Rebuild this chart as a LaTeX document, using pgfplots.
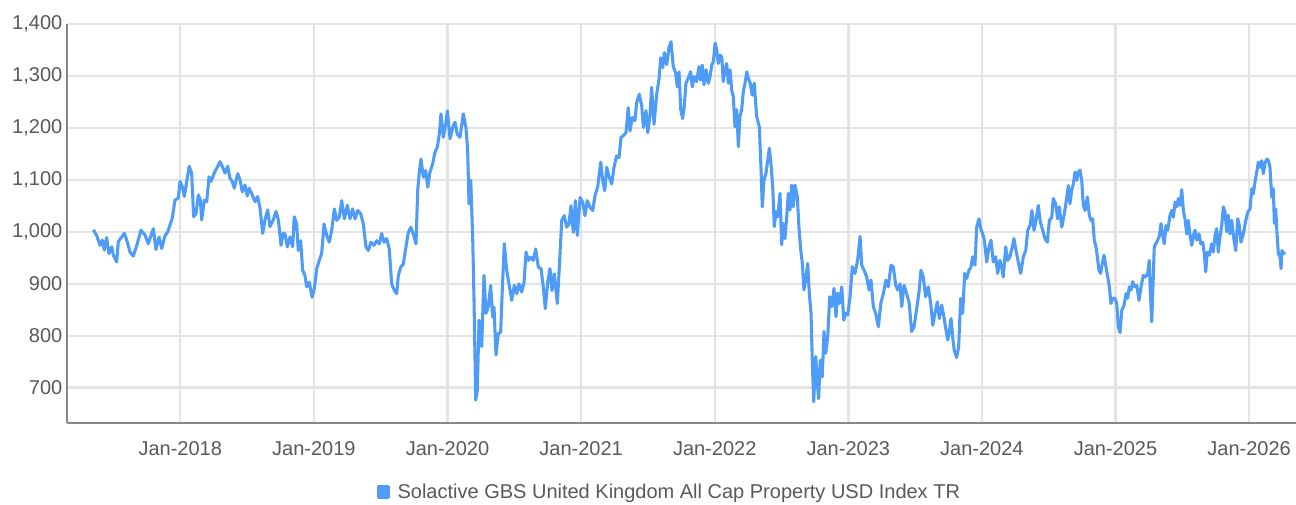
\documentclass[border=0pt]{standalone}
\usepackage{pgfplots}
\pgfplotsset{compat=1.18}
\usepackage{fontspec}
\setmainfont{Liberation Sans}
\definecolor{linecol}{RGB}{78,155,248}
\definecolor{gridgray}{RGB}{228,228,228}
\definecolor{axisgray}{RGB}{135,135,135}
\definecolor{labelgray}{RGB}{89,89,89}
\begin{document}
\begin{tikzpicture}
\path[use as bounding box] (-50.25pt,-60.75pt) rectangle (921.75pt,317.25pt);
\begin{axis}[
  at={(0,0)}, anchor=south west,
  scale only axis, width=921.75pt, height=299.25pt,
  xmin=2017.152, xmax=2026.351, ymin=632, ymax=1400,
  axis x line*=bottom, axis y line*=left,
  axis line style={draw=axisgray, line width=1.5pt},
  xtick={2018,2019,2020,2021,2022,2023,2024,2025,2026},
  xticklabels={Jan-2018,Jan-2019,Jan-2020,Jan-2021,Jan-2022,Jan-2023,Jan-2024,Jan-2025,Jan-2026},
  ytick={700,800,900,1000,1100,1200,1300,1400},
  grid=major, major grid style={draw=gridgray, line width=1.8pt},
  major tick length=0pt, tick style={draw=none},
  tick label style={font=\fontsize{15}{18}\selectfont, text=labelgray},
  xticklabel style={yshift=-10.5pt},
  /pgf/number format/.cd, 1000 sep={,}, assume math mode=true,
  /pgfplots/.cd,
  legend style={draw=none, fill=none, at={(axis description cs:0.4906,0)}, anchor=center, yshift=-51.75pt,
    font=\fontsize{15}{18}\selectfont, text=labelgray, inner sep=0pt},
  legend image code/.code={\fill[linecol] (0pt,-3.8pt) rectangle (7.5pt,3.8pt);},
]
\addplot[linecol, line width=2.3pt, line join=round, mark=none] table {
2017.349 1004
2017.374 993
2017.399 974
2017.416 984
2017.431 965
2017.449 989
2017.466 958
2017.487 971
2017.499 955
2017.524 942
2017.536 981
2017.561 990
2017.581 997
2017.599 984
2017.624 961
2017.648 953
2017.674 974
2017.706 1003
2017.736 994
2017.760 977
2017.798 1006
2017.818 966
2017.841 990
2017.861 968
2017.885 992
2017.906 1000
2017.923 1013
2017.940 1026
2017.960 1061
2017.985 1065
2017.998 1097
2018.015 1087
2018.030 1068
2018.048 1097
2018.067 1126
2018.085 1113
2018.100 1029
2018.118 1035
2018.135 1071
2018.150 1061
2018.160 1023
2018.180 1061
2018.198 1058
2018.215 1106
2018.230 1097
2018.254 1113
2018.280 1126
2018.297 1135
2018.314 1126
2018.335 1113
2018.355 1126
2018.372 1103
2018.389 1097
2018.404 1084
2018.430 1112
2018.447 1100
2018.464 1077
2018.484 1090
2018.501 1069
2018.516 1084
2018.534 1074
2018.559 1058
2018.579 1068
2018.597 1045
2018.617 997
2018.634 1023
2018.654 1042
2018.671 1010
2018.696 1023
2018.716 1039
2018.734 1023
2018.754 974
2018.771 997
2018.784 996
2018.801 971
2018.821 990
2018.841 971
2018.853 1029
2018.871 1015
2018.883 964
2018.901 983
2018.916 926
2018.933 916
2018.946 894
2018.966 903
2018.986 874
2019.003 890
2019.021 929
2019.040 945
2019.058 958
2019.076 1015
2019.096 993
2019.115 980
2019.133 1003
2019.153 1044
2019.171 1022
2019.190 1028
2019.208 1060
2019.228 1025
2019.250 1051
2019.270 1025
2019.290 1044
2019.308 1025
2019.328 1041
2019.350 1035
2019.370 1015
2019.390 971
2019.407 964
2019.427 980
2019.450 974
2019.470 983
2019.490 977
2019.507 997
2019.525 980
2019.545 987
2019.564 967
2019.582 900
2019.602 887
2019.620 881
2019.632 916
2019.650 932
2019.669 938
2019.689 971
2019.707 999
2019.725 1009
2019.744 996
2019.764 977
2019.777 1079
2019.789 1115
2019.802 1140
2019.819 1105
2019.837 1118
2019.852 1086
2019.869 1115
2019.889 1131
2019.906 1153
2019.924 1163
2019.939 1188
2019.951 1227
2019.969 1182
2019.987 1208
2019.999 1233
2020.019 1179
2020.039 1201
2020.056 1211
2020.073 1188
2020.094 1182
2020.118 1227
2020.138 1201
2020.151 1156
2020.161 1054
2020.174 1099
2020.181 1047
2020.189 983
2020.198 875
2020.211 676
2020.223 695
2020.236 830
2020.256 779
2020.273 916
2020.288 843
2020.305 855
2020.323 897
2020.338 836
2020.348 855
2020.363 763
2020.380 804
2020.398 807
2020.410 887
2020.425 977
2020.443 926
2020.460 900
2020.481 868
2020.500 897
2020.518 881
2020.535 900
2020.555 884
2020.573 903
2020.588 961
2020.605 945
2020.623 951
2020.642 945
2020.660 967
2020.680 932
2020.700 929
2020.717 894
2020.732 852
2020.750 903
2020.767 929
2020.782 887
2020.799 919
2020.822 862
2020.837 932
2020.855 1022
2020.874 1031
2020.892 1009
2020.909 1015
2020.924 1050
2020.942 999
2020.957 1060
2020.972 993
2020.992 1066
2021.012 1057
2021.029 1031
2021.046 1060
2021.067 1047
2021.087 1041
2021.104 1070
2021.124 1086
2021.147 1134
2021.162 1098
2021.177 1079
2021.192 1124
2021.211 1105
2021.229 1092
2021.246 1124
2021.266 1146
2021.284 1143
2021.299 1182
2021.316 1185
2021.336 1191
2021.353 1239
2021.366 1194
2021.383 1220
2021.403 1214
2021.416 1249
2021.436 1265
2021.454 1242
2021.466 1201
2021.486 1233
2021.499 1191
2021.516 1226
2021.528 1278
2021.546 1207
2021.566 1265
2021.583 1294
2021.596 1335
2021.611 1316
2021.623 1345
2021.641 1322
2021.658 1355
2021.673 1366
2021.690 1318
2021.708 1305
2021.720 1279
2021.733 1308
2021.746 1235
2021.760 1218
2021.772 1241
2021.785 1286
2021.802 1296
2021.820 1308
2021.832 1279
2021.847 1299
2021.865 1289
2021.882 1318
2021.895 1292
2021.907 1321
2021.920 1283
2021.935 1312
2021.952 1286
2021.965 1299
2021.978 1321
2021.990 1328
2022.003 1363
2022.015 1350
2022.027 1324
2022.040 1340
2022.053 1337
2022.064 1289
2022.077 1312
2022.090 1324
2022.102 1286
2022.115 1312
2022.127 1273
2022.139 1260
2022.152 1202
2022.165 1235
2022.177 1164
2022.189 1222
2022.202 1235
2022.214 1270
2022.227 1286
2022.240 1308
2022.251 1296
2022.266 1286
2022.281 1263
2022.296 1286
2022.314 1222
2022.334 1202
2022.347 1119
2022.356 1048
2022.369 1100
2022.384 1113
2022.397 1138
2022.409 1161
2022.421 1132
2022.434 1087
2022.446 1010
2022.459 1039
2022.472 1029
2022.489 1074
2022.501 975
2022.513 1016
2022.526 987
2022.539 1029
2022.551 1074
2022.564 1042
2022.576 1090
2022.588 1048
2022.601 1090
2022.618 1068
2022.631 1007
2022.644 965
2022.656 939
2022.668 888
2022.681 907
2022.696 939
2022.708 882
2022.721 843
2022.731 747
2022.741 673
2022.756 760
2022.768 708
2022.778 679
2022.790 753
2022.805 721
2022.818 808
2022.831 766
2022.846 798
2022.861 875
2022.876 856
2022.893 891
2022.908 837
2022.921 882
2022.933 862
2022.951 894
2022.966 830
2022.981 843
2022.996 840
2023.013 875
2023.030 933
2023.050 920
2023.070 946
2023.088 991
2023.100 936
2023.118 926
2023.138 913
2023.155 888
2023.170 907
2023.187 856
2023.205 843
2023.225 817
2023.243 862
2023.262 881
2023.282 907
2023.299 894
2023.320 936
2023.337 932
2023.355 897
2023.370 888
2023.387 900
2023.400 856
2023.417 897
2023.437 881
2023.456 862
2023.474 808
2023.492 817
2023.512 852
2023.529 884
2023.544 926
2023.561 913
2023.579 875
2023.599 894
2023.617 862
2023.632 820
2023.649 843
2023.666 865
2023.681 833
2023.699 859
2023.716 836
2023.731 811
2023.744 792
2023.756 808
2023.769 833
2023.781 798
2023.793 772
2023.811 758
2023.826 779
2023.841 872
2023.856 843
2023.871 920
2023.886 910
2023.903 926
2023.918 932
2023.931 952
2023.948 936
2023.961 1009
2023.978 1025
2023.991 1006
2024.006 996
2024.018 984
2024.036 942
2024.053 971
2024.068 984
2024.085 942
2024.103 952
2024.118 920
2024.135 945
2024.148 932
2024.160 913
2024.178 971
2024.193 945
2024.210 952
2024.228 971
2024.240 987
2024.255 964
2024.272 942
2024.290 920
2024.310 952
2024.328 964
2024.343 1003
2024.360 1012
2024.375 1041
2024.390 1003
2024.405 1022
2024.422 1051
2024.437 1019
2024.455 1003
2024.472 987
2024.490 980
2024.505 1022
2024.523 1028
2024.534 1064
2024.552 1054
2024.567 1025
2024.579 1048
2024.598 1009
2024.615 1032
2024.630 1057
2024.647 1089
2024.659 1054
2024.672 1080
2024.684 1092
2024.697 1115
2024.710 1099
2024.722 1115
2024.734 1119
2024.747 1099
2024.759 1051
2024.772 1041
2024.789 1067
2024.804 1032
2024.817 1022
2024.829 1025
2024.841 984
2024.854 971
2024.864 952
2024.876 926
2024.889 920
2024.901 939
2024.914 955
2024.929 932
2024.942 913
2024.954 894
2024.966 862
2024.979 872
2024.996 872
2025.009 862
2025.021 817
2025.034 806
2025.047 849
2025.064 859
2025.079 881
2025.091 872
2025.103 894
2025.116 888
2025.129 904
2025.146 894
2025.159 897
2025.176 868
2025.191 894
2025.208 916
2025.226 913
2025.241 920
2025.253 945
2025.260 888
2025.271 827
2025.281 900
2025.290 971
2025.308 980
2025.326 990
2025.341 1016
2025.353 993
2025.365 977
2025.378 1012
2025.391 1003
2025.408 1032
2025.421 1041
2025.433 1028
2025.446 1057
2025.459 1048
2025.470 1064
2025.483 1051
2025.496 1081
2025.508 1041
2025.520 1025
2025.533 996
2025.545 1022
2025.558 993
2025.571 974
2025.583 993
2025.595 1003
2025.608 984
2025.625 996
2025.638 977
2025.653 980
2025.665 958
2025.675 923
2025.687 961
2025.702 955
2025.720 977
2025.732 961
2025.745 993
2025.757 1006
2025.769 961
2025.782 990
2025.795 1012
2025.807 1048
2025.820 1038
2025.832 1000
2025.844 1032
2025.857 996
2025.870 1022
2025.887 984
2025.900 964
2025.915 1025
2025.927 1012
2025.939 980
2025.957 996
2025.975 1022
2025.990 1038
2026.007 1044
2026.020 1083
2026.031 1073
2026.044 1096
2026.057 1115
2026.069 1134
2026.082 1124
2026.094 1137
2026.106 1112
2026.119 1132
2026.132 1140
2026.144 1138
2026.156 1124
2026.169 1067
2026.181 1083
2026.189 1016
2026.199 1044
2026.209 996
2026.219 958
2026.231 952
2026.239 929
2026.246 964
2026.257 958
2026.269 961
};
\addlegendentry{\hspace{3.5pt}Solactive GBS United Kingdom All Cap Property USD Index TR}
\end{axis}
\end{tikzpicture}
\end{document}
